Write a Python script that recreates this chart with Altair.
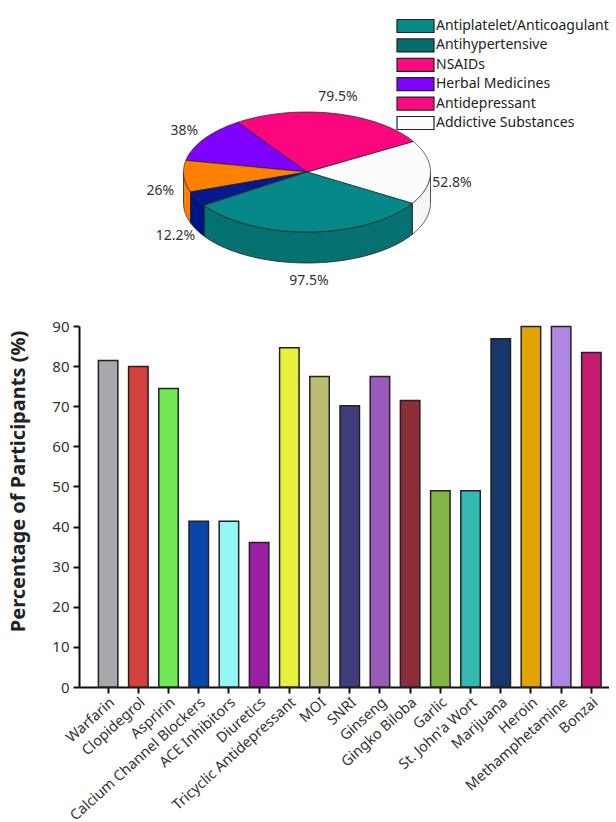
import math
import altair as alt
import pandas as pd

FONT = "Noto Sans"

# ---------------- data ----------------
pie_labels = ["52.8%", "79.5%", "38%", "26%", "12.2%", "97.5%"]
pie_values = [52.8, 79.5, 38.0, 26.0, 12.2, 97.5]
pie_top_colors = ["#fcfcfc", "#fb067f", "#7f00ff", "#ff8000", "#07198c", "#078888"]
pie_side_colors = ["#f6f6f6", "#c8005f", "#5f00c0", "#ff8000", "#001585", "#057171"]

legend_labels = ["Antiplatelet/Anticoagulant", "Antihypertensive", "NSAIDs",
                 "Herbal Medicines", "Antidepressant", "Addictive Substances"]
legend_colors = ["#088a8a", "#046e6e", "#ff0a7f", "#7f00ff", "#ff0a7f", "#fcfcfc"]

drugs = ["Warfarin", "Clopidegrol", "Aspririn", "Calcium Channel Blockers",
         "ACE Inhibitors", "Diuretics", "Tricyclic Antidepressant", "MOI", "SNRI",
         "Ginseng", "Gingko Biloba", "Garlic", "St. John'a Wort", "Marijuana",
         "Heroin", "Methamphetamine", "Bonzai"]
pcts = [81.4, 79.9, 74.4, 41.3, 41.3, 36.0, 84.6, 77.4, 70.1, 77.4, 71.4,
        48.9, 48.9, 86.8, 89.9, 89.9, 83.4]
bar_colors = ["#a7a8ac", "#d5403a", "#6fe853", "#0a46a8", "#93f8f5", "#9b1fa4",
              "#e8f03e", "#bbbd72", "#403d7a", "#9b59ba", "#8b2e3a", "#84b544",
              "#33b8b2", "#163769", "#e0a300", "#ae87e3", "#c31b6f"]

# ---------------- pie (3-D look) ----------------
W = 530
H1 = 318
X0 = 77
CX, CY, RX, RY, DEPTH = 305, 172, 123.5, 60, 31
START = math.radians(-31.5)
N = 60

pie_df = pd.DataFrame({"idx": list(range(len(pie_values))), "label": pie_labels,
                       "value": pie_values, "top": pie_top_colors, "side": pie_side_colors})

xs = alt.Scale(domain=[X0, X0 + W], nice=False, zero=False)
ys = alt.Scale(domain=[H1, 0], nice=False, zero=False)

base = (alt.Chart(pie_df)
        .transform_window(cum="sum(value)", sort=[alt.SortField("idx")], frame=[None, 0])
        .transform_joinaggregate(total="sum(value)")
        .transform_calculate(
            a0=f"{START} + 2*PI*(datum.cum - datum.value)/datum.total",
            a1=f"{START} + 2*PI*datum.cum/datum.total"))

sides = (base
         .transform_calculate(
             f0="datum.a0 < 0 ? datum.a0 : max(datum.a0, PI)",
             f1="datum.a0 < 0 ? min(datum.a1, 0) : datum.a1")
         .transform_filter("datum.f1 > datum.f0")
         .transform_calculate(pts=f"sequence(0, {2 * N + 2})")
         .transform_flatten(["pts"], ["k"])
         .transform_calculate(
             j=f"datum.k <= {N} ? datum.k : {2 * N + 1} - datum.k",
             ang=f"datum.f0 + (datum.f1 - datum.f0) * datum.j / {N}",
             px=f"{CX} + {RX}*cos(datum.ang)",
             py=f"{CY} - {RY}*sin(datum.ang) + (datum.k > {N} ? {DEPTH} : 0)")
         .mark_line(interpolate="linear-closed", filled=True, stroke="#222", strokeWidth=0.8)
         .encode(x=alt.X("px:Q", scale=xs, axis=None),
                 y=alt.Y("py:Q", scale=ys, axis=None),
                 fill=alt.Fill("side:N", scale=None),
                 detail="idx:N", order="k:Q"))

tops = (base
        .transform_calculate(pts=f"sequence(0, {N + 2})")
        .transform_flatten(["pts"], ["k"])
        .transform_calculate(
            ang=f"datum.a0 + (datum.a1 - datum.a0) * min(datum.k, {N}) / {N}",
            px=f"datum.k > {N} ? {CX} : {CX} + {RX}*cos(datum.ang)",
            py=f"datum.k > {N} ? {CY} : {CY} - {RY}*sin(datum.ang)")
        .mark_line(interpolate="linear-closed", filled=True, stroke="#222", strokeWidth=0.7)
        .encode(x=alt.X("px:Q", scale=xs, axis=None),
                y=alt.Y("py:Q", scale=ys, axis=None),
                fill=alt.Fill("top:N", scale=None),
                detail="idx:N", order="k:Q"))

labels = (base
          .transform_calculate(
              mid="(datum.a0 + datum.a1)/2",
              lx=f"{CX} - 1 + 146*cos(datum.mid)",
              ly=(f"{CY} - 2 - 75*sin(datum.mid) + 36*max(0, -sin(datum.mid))"
                  " + 12*pow(cos(datum.mid), 2)"
                  " + 20*max(0, -sin(datum.mid))*pow(cos(datum.mid), 2)"
                  " - 15*max(0, sin(datum.mid))*pow(cos(datum.mid), 2)"))
          .mark_text(fontSize=14, color="#333", font=FONT)
          .encode(x=alt.X("lx:Q", scale=xs, axis=None),
                  y=alt.Y("ly:Q", scale=ys, axis=None),
                  text="label:N"))

legend_df = pd.DataFrame({"cat": legend_labels})
legend_layer = (alt.Chart(legend_df)
                .mark_point(filled=True, size=0)
                .encode(color=alt.Color(
                    "cat:N",
                    scale=alt.Scale(domain=legend_labels, range=legend_colors),
                    legend=alt.Legend(
                        title=None, orient="none", legendX=329, legendY=18.5,
                        symbolType="M-2.846,-1L2.846,-1L2.846,1L-2.846,1Z",
                        symbolSize=169, symbolStrokeColor="#222",
                        symbolStrokeWidth=1.2, symbolOpacity=1,
                        labelFontSize=14, labelColor="#222", labelFont=FONT,
                        labelOffset=13, rowPadding=0.4, padding=0, labelLimit=300))))

pie = alt.layer(sides, tops, labels, legend_layer).properties(width=W, height=H1)

# ---------------- bars ----------------
bar_df = pd.DataFrame({"drug": drugs, "pct": pcts, "col": bar_colors})
bars = (alt.Chart(bar_df)
        .mark_bar(stroke="#222", strokeWidth=1.5)
        .encode(
            x=alt.X("drug:N", sort=drugs, title=None,
                    scale=alt.Scale(paddingInner=0.355, paddingOuter=0.452, align=0.71),
                    axis=alt.Axis(labelAngle=-42, labelFontSize=14.5, labelColor="#333",
                                  labelFont=FONT, domainColor="#111", domainWidth=2,
                                  tickColor="#111", tickWidth=2, tickSize=6,
                                  labelPadding=2, labelLimit=400)),
            y=alt.Y("pct:Q", scale=alt.Scale(domain=[0, 90], nice=False),
                    title="Percentage of Participants (%)",
                    axis=alt.Axis(values=list(range(0, 91, 10)), grid=False,
                                  labelFontSize=15, labelColor="#333", labelFont=FONT,
                                  domainColor="#111", domainWidth=2, tickColor="#111",
                                  tickWidth=2, tickSize=6, labelPadding=4,
                                  titleFontSize=20, titleFontWeight="bold",
                                  titleColor="#222", titleFont=FONT, titlePadding=23,
                                  titleY=155)),
            fill=alt.Fill("col:N", scale=None))
        .properties(width=W, height=361))

chart = (alt.vconcat(pie, bars, spacing=8, bounds="flush")
         .properties(padding={"left": 8, "top": 0, "right": 0, "bottom": 0})
         .configure(font=FONT)
         .configure_view(stroke=None))

chart.save("out.html", embed_options={"renderer": "svg", "actions": False})
